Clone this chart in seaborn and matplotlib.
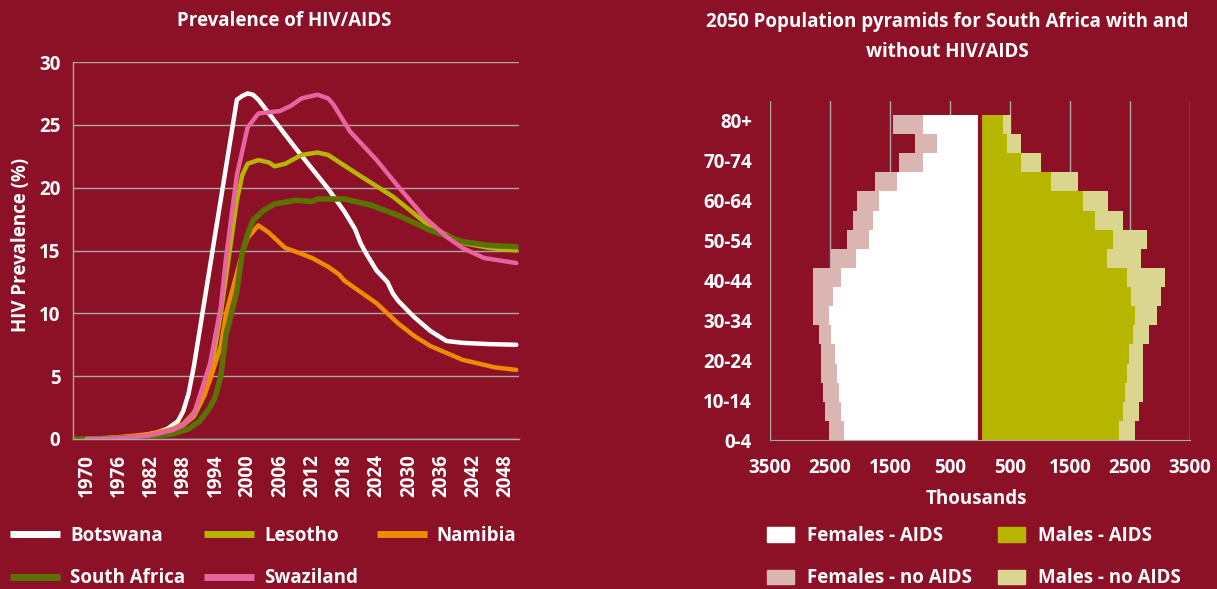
import matplotlib
matplotlib.use("Agg")
import matplotlib.pyplot as plt
from matplotlib.lines import Line2D
from matplotlib.patches import Patch
import numpy as np
import pandas as pd
import seaborn as sns

# ── DATA ─────────────────────────────────────────────
# HIV prevalence (%) by year
botswana_years = [1970, 1976, 1980, 1983, 1985, 1987, 1988, 1989, 1990, 1998, 1999, 2000, 2001, 2002,
                  2009, 2015, 2018, 2019, 2020, 2021, 2022, 2024, 2026, 2027, 2028, 2031, 2034, 2037,
                  2040, 2045, 2050]
botswana_vals = [0.0, 0.1, 0.25, 0.5, 0.8, 1.4, 2.2, 3.6, 5.8, 27.0, 27.3, 27.5, 27.4, 27.0,
                 23.1, 19.9, 18.1, 17.4, 16.7, 15.6, 14.8, 13.4, 12.5, 11.6, 11.0, 9.7, 8.6, 7.8,
                 7.65, 7.55, 7.5]

lesotho_years = [1970, 1976, 1982, 1986, 1988, 1990, 1992, 1993, 1995, 1997, 1998, 1999, 2000, 2002,
                 2004, 2005, 2007, 2010, 2013, 2015, 2020, 2027, 2034, 2040, 2045, 2050]
lesotho_vals = [0.0, 0.1, 0.3, 0.7, 1.1, 1.8, 3.5, 5.0, 10.0, 16.0, 19.0, 21.0, 21.9, 22.2,
                22.0, 21.7, 21.9, 22.6, 22.8, 22.6, 21.2, 19.3, 16.9, 15.6, 15.2, 15.0]

namibia_years = [1970, 1976, 1982, 1986, 1988, 1990, 1992, 1993, 1995, 1996, 1998, 1999, 2000, 2002,
                 2004, 2007, 2009, 2012, 2015, 2017, 2018, 2019, 2021, 2024, 2028, 2031, 2034, 2040,
                 2046, 2050]
namibia_vals = [0.0, 0.15, 0.4, 0.8, 1.2, 2.1, 3.6, 4.7, 7.4, 10.0, 13.2, 14.8, 16.0, 17.0,
                16.4, 15.2, 14.9, 14.4, 13.7, 13.1, 12.6, 12.3, 11.7, 10.8, 9.2, 8.2, 7.4, 6.3,
                5.7, 5.5]

south_africa_years = [1968, 1970, 1976, 1982, 1986, 1989, 1991, 1993, 1994, 1995, 1996, 1997, 1998,
                      1999, 2000, 2001, 2003, 2005, 2009, 2012, 2013, 2018, 2023, 2028, 2034, 2040,
                      2045, 2050]
south_africa_vals = [0.0, 0.0, 0.05, 0.2, 0.4, 0.8, 1.4, 2.5, 3.4, 5.0, 8.4, 10.0, 11.8,
                     14.8, 16.3, 17.4, 18.2, 18.7, 19.0, 18.9, 19.1, 19.1, 18.6, 17.8, 16.6, 15.7,
                     15.4, 15.3]

swaziland_years = [1970, 1976, 1982, 1986, 1988, 1990, 1991, 1993, 1995, 1996, 1998, 2000, 2002,
                   2006, 2008, 2010, 2013, 2015, 2016, 2019, 2024, 2028, 2033, 2037, 2040, 2044,
                   2050]
swaziland_vals = [0.0, 0.05, 0.3, 0.7, 1.1, 2.0, 3.3, 6.0, 10.5, 14.5, 21.0, 24.8, 25.9,
                  26.1, 26.5, 27.1, 27.4, 27.1, 26.6, 24.5, 22.2, 20.1, 17.6, 16.1, 15.2, 14.4,
                  14.0]

countries = ["Botswana", "Lesotho", "Namibia", "South Africa", "Swaziland"]
year_labels = list(range(1970, 2049, 6))

# 2050 population (thousands) by age group, top to bottom
age_groups = ["80+", "75-79", "70-74", "65-69", "60-64", "55-59", "50-54", "45-49", "40-44",
              "35-39", "30-34", "25-29", "20-24", "15-19", "10-14", "5-9", "0-4"]
females_aids = [955, 720, 955, 1390, 1690, 1790, 1855, 2060, 2325, 2445, 2520, 2485, 2415,
                2390, 2355, 2325, 2270]
females_no_aids = [1455, 1090, 1355, 1750, 2050, 2120, 2220, 2480, 2785, 2785, 2785, 2685,
                   2650, 2650, 2620, 2585, 2520]
males_aids = [380, 450, 680, 1185, 1715, 1915, 2210, 2120, 2450, 2520, 2585, 2550, 2485,
              2450, 2420, 2385, 2320]
males_no_aids = [510, 675, 1010, 1640, 2140, 2380, 2780, 2685, 3080, 3015, 2945, 2815, 2715,
                 2715, 2715, 2645, 2580]
pyr_ticks = [-3500, -2500, -1500, -500, 500, 1500, 2500, 3500]

# ── STYLE ────────────────────────────────────────────
bg = "#8c1127"
grid_c = "#a8a8a8"
line_colors = {"Botswana": "#ffffff", "Lesotho": "#b6b600", "Namibia": "#f08a00",
               "South Africa": "#5b7200", "Swaziland": "#e8639f"}
c_fem_aids, c_fem_no = "#ffffff", "#dbb5b1"
c_male_aids, c_male_no = "#b6b600", "#dad68f"

sns.set_style("white")
plt.rcParams["font.family"] = ["Open Sans", "DejaVu Sans"]
plt.rcParams["font.weight"] = "bold"
plt.rcParams["text.color"] = "white"
plt.rcParams["xtick.color"] = "white"
plt.rcParams["ytick.color"] = "white"

fs = 13.5
fig = plt.figure(figsize=(12.17, 5.89), dpi=100, facecolor=bg)

# ── LEFT: prevalence lines ───────────────────────────
ax1 = fig.add_axes([73 / 1217, 1 - 439 / 589, 446 / 1217, 377 / 589])
ax1.set_facecolor(bg)

series = {
    "Botswana": (botswana_years, botswana_vals),
    "Lesotho": (lesotho_years, lesotho_vals),
    "Namibia": (namibia_years, namibia_vals),
    "South Africa": (south_africa_years, south_africa_vals),
    "Swaziland": (swaziland_years, swaziland_vals),
}
for name in countries:
    yrs, vals = series[name]
    df = pd.DataFrame({"year": yrs, "prev": vals})
    sns.lineplot(data=df, x="year", y="prev", color=line_colors[name],
                 lw=4.0 if name == "South Africa" else 3.2, ax=ax1, legend=False)

ax1.set_xlim(1967.5, 2050.5)
ax1.set_ylim(0, 30)
ax1.set_yticks(range(0, 31, 5))
ax1.set_xticks(year_labels)
ax1.set_xticklabels([str(y) for y in year_labels], rotation=90, fontsize=13.5)
ax1.tick_params(axis="x", length=0, pad=11)
ax1.tick_params(axis="y", length=4, width=1, color=grid_c, pad=5, labelsize=fs)
ax1.set_xlabel("")
ax1.set_ylabel("")
ax1.yaxis.grid(True, color=grid_c, lw=1)
ax1.set_axisbelow(True)
for s in ["top", "right"]:
    ax1.spines[s].set_visible(False)
for s in ["left", "bottom"]:
    ax1.spines[s].set_color(grid_c)
    ax1.spines[s].set_linewidth(1)

fig.text(284 / 1217, 1 - 21 / 589, "Prevalence of HIV/AIDS", ha="center", va="center", fontsize=fs)
fig.text(21 / 1217, 1 - 245 / 589, "HIV Prevalence (%)", rotation=90, ha="center", va="center",
         fontsize=fs)

# column-major fill, so order entries to read row by row
leg_order = ["Botswana", "South Africa", "Lesotho", "Swaziland", "Namibia"]
handles = [Line2D([0], [0], color=line_colors[n], lw=5, solid_capstyle="butt") for n in leg_order]
fig.legend(handles, leg_order, ncol=3, frameon=False, fontsize=fs,
           loc="upper left", bbox_to_anchor=(10 / 1217, 1 - 526 / 589),
           borderpad=0, borderaxespad=0,
           handlelength=2.67, handletextpad=0.53, columnspacing=1.0, labelspacing=1.19)

# ── RIGHT: population pyramid ────────────────────────
ax2 = fig.add_axes([770 / 1217, 1 - 440 / 589, 420 / 1217, 339 / 589])
ax2.set_facecolor(bg)

bar_kw = dict(y=age_groups, order=age_groups, orient="h", saturation=1, width=1,
              errorbar=None, linewidth=0, ax=ax2)
sns.barplot(x=-np.array(females_no_aids), color=c_fem_no, **bar_kw)
sns.barplot(x=-np.array(females_aids), color=c_fem_aids, **bar_kw)
sns.barplot(x=np.array(males_no_aids), color=c_male_no, **bar_kw)
sns.barplot(x=np.array(males_aids), color=c_male_aids, **bar_kw)
ax2.axvline(0, color=bg, lw=3, zorder=5)

ax2.set_xlim(-3500, 3500)
ax2.set_ylim(16.5, -1.23)
ax2.set_xticks(pyr_ticks)
ax2.set_xticklabels([str(abs(t)) for t in pyr_ticks], fontsize=fs)
# age labels sit on a slightly wider spacing than the bars, anchored at the bottom edge
label_idx = list(range(0, 17, 2))
ax2.set_yticks([16.5 - (16 - i) * 1.046 for i in label_idx])
ax2.set_yticklabels([age_groups[i] for i in label_idx], fontsize=fs)
ax2.tick_params(axis="y", length=0, pad=13)
ax2.tick_params(axis="x", length=5, width=1, color=grid_c, pad=8)
ax2.xaxis.grid(True, color=grid_c, lw=1)
ax2.set_axisbelow(True)
ax2.set_xlabel("")
ax2.set_ylabel("")
for s in ["top", "right", "left"]:
    ax2.spines[s].set_visible(False)
ax2.spines["bottom"].set_color(grid_c)

fig.text(947 / 1217, 1 - 37 / 589, "2050 Population pyramids for South Africa with and\nwithout HIV/AIDS",
         ha="center", va="center", fontsize=fs, linespacing=1.7)
fig.text(976 / 1217, 1 - 499 / 589, "Thousands", ha="center", va="center", fontsize=fs)

p_handles = [Patch(color=c_fem_aids), Patch(color=c_fem_no),
             Patch(color=c_male_aids), Patch(color=c_male_no)]
p_labels = ["Females - AIDS", "Females - no AIDS", "Males - AIDS", "Males - no AIDS"]
fig.legend(p_handles, p_labels, ncol=2, frameon=False, fontsize=fs,
           loc="upper left", bbox_to_anchor=(767 / 1217, 1 - 526 / 589),
           borderpad=0, borderaxespad=0,
           handlelength=1.44, handleheight=0.8, handletextpad=0.7, columnspacing=1.4,
           labelspacing=1.19)

fig.savefig("out.png", dpi=100, facecolor=bg)
